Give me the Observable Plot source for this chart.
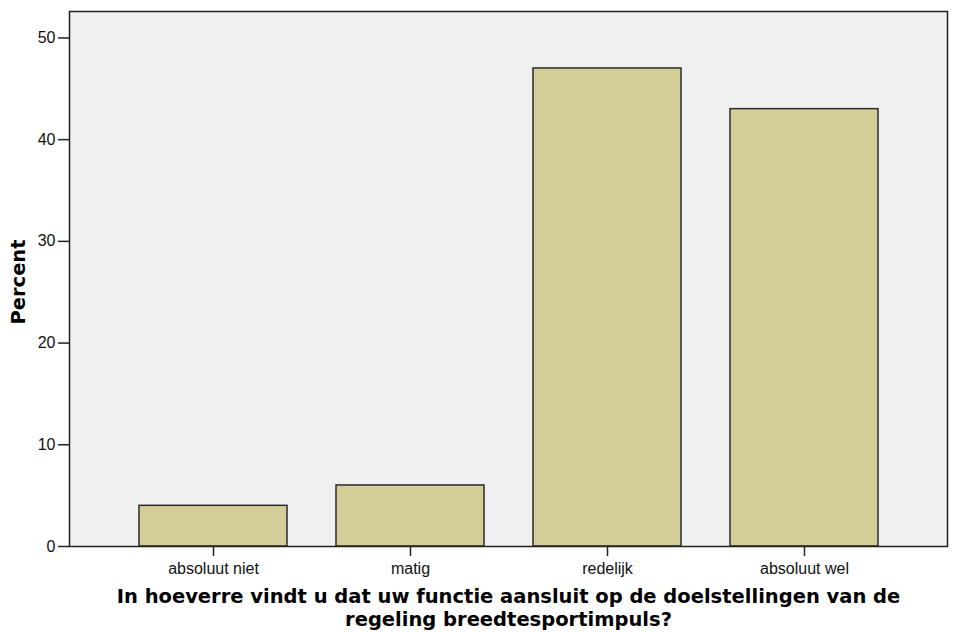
<!DOCTYPE html>
<html>
<head>
<meta charset="utf-8">
<script src="https://cdn.jsdelivr.net/npm/d3@7"></script>
<script src="https://cdn.jsdelivr.net/npm/@observablehq/plot@0.6"></script>
<style>
  html, body { margin: 0; padding: 0; background: #fff; }
</style>
</head>
<body>
<div id="chart"></div>
<script>
const categories = ["absoluut niet", "matig", "redelijk", "absoluut wel"];
const percents = [4, 6, 47, 43];
const yTicks = [0, 10, 20, 30, 40, 50];
const yLabel = "Percent";
const xTitle = "In hoeverre vindt u dat uw functie aansluit op de doelstellingen van de\nregeling breedtesportimpuls?";

const data = categories.map((c, i) => ({cat: c, pct: percents[i]}));

const chart = Plot.plot({
  width: 953,
  height: 632,
  marginLeft: 69,
  marginRight: 6,
  marginTop: 11,
  marginBottom: 86,
  style: {fontFamily: "'Liberation Sans', Arial, sans-serif", fontSize: "16px", color: "#111", background: "#fff"},
  x: {domain: categories, paddingInner: 0.25, paddingOuter: 0.347, label: null},
  y: {domain: [0, 52.6], label: null},
  marks: [
    Plot.frame({fill: "#f0f0f0", stroke: null}),
    Plot.barY(data, {x: "cat", y: "pct", fill: "#d3ce97", stroke: "#2a2a2a", strokeWidth: 1.5}),
    Plot.axisY({ticks: yTicks, tickSize: 11, tickPadding: 3, fontSize: 16, label: null, stroke: "#222", strokeWidth: 1.5}),
    Plot.axisX({tickSize: 10, tickPadding: 6, fontSize: 16, label: null, stroke: "#222", strokeWidth: 1.5}),
    Plot.frame({stroke: "#222", strokeWidth: 1.5}),
    Plot.text([yLabel], {text: d => d, frameAnchor: "left", textAnchor: "middle", rotate: -90, dx: -51, dy: 3, fontSize: 19.5, fontWeight: "bold", fontFamily: "'DejaVu Sans', Verdana, sans-serif", fill: "#000"}),
    Plot.text([xTitle], {text: d => d, frameAnchor: "bottom", lineAnchor: "top", dy: 41, fontSize: 19.5, fontWeight: "bold", fontFamily: "'DejaVu Sans', Verdana, sans-serif", lineHeight: 1.14, fill: "#000"})
  ]
});
document.getElementById("chart").append(chart);
</script>
</body>
</html>
